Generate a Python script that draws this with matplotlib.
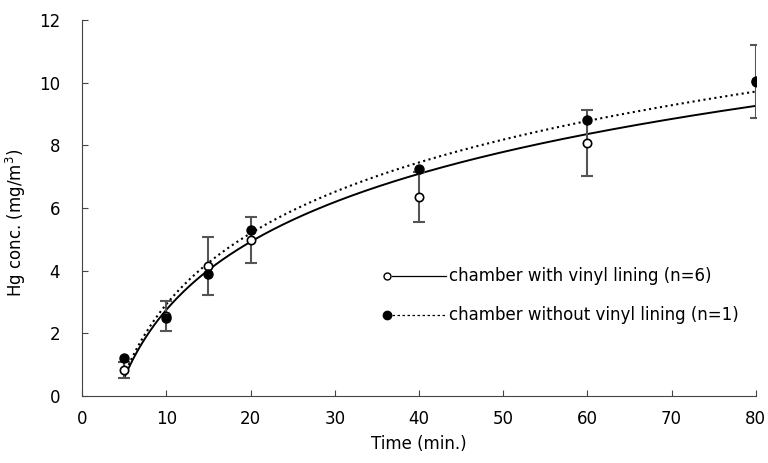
import numpy as np
import matplotlib
matplotlib.use("Agg")
import matplotlib.pyplot as plt

# data
time_min = [5, 10, 15, 20, 40, 60, 80]
with_vinyl = [0.83, 2.55, 4.15, 4.98, 6.35, 8.07, 10.03]
with_vinyl_sd = [0.25, 0.47, 0.92, 0.73, 0.80, 1.05, 1.16]
without_vinyl = [1.20, 2.49, 3.90, 5.28, 7.25, 8.80, 10.04]

plt.rcParams['font.family'] = ['DejaVu Sans']

fig = plt.figure(figsize=(7.68, 4.63), dpi=100)
ax = fig.add_axes([0.107, 0.145, 0.877, 0.812])

# log fits for the two curves
xs = np.linspace(5, 80, 300)
a1, b1 = np.polyfit(np.log(time_min), with_vinyl, 1)
a2, b2 = np.polyfit(np.log(time_min), without_vinyl, 1)
ax.plot(xs, a1 * np.log(xs) + b1, '-', color='black', lw=1.4, zorder=2)
ax.plot(xs, a2 * np.log(xs) + b2, ':', color='black', lw=1.5, zorder=2)

ax.errorbar(time_min, with_vinyl, yerr=with_vinyl_sd, fmt='none',
            ecolor='#555555', elinewidth=1.5, capsize=4, capthick=1.5, zorder=3)
ax.plot(time_min, with_vinyl, 'o', mfc='white', mec='black', mew=1.2, ms=6, zorder=4)
ax.plot(time_min, without_vinyl, 'o', color='black', ms=6.5, zorder=5)

ax.set_xlim(0, 80)
ax.set_ylim(0, 12)
ax.set_xticks(range(0, 81, 10))
ax.set_yticks(range(0, 13, 2))
ax.tick_params(direction='in', length=4, labelsize=12, color='#444444')
ax.tick_params(axis='y', pad=16)
ax.tick_params(axis='x', pad=10)
for s in ['top', 'right']:
    ax.spines[s].set_visible(False)
for s in ['left', 'bottom']:
    ax.spines[s].set_color('#444444')
ax.set_xlabel('Time (min.)', fontsize=12, labelpad=5)
ax.set_ylabel('Hg conc. (mg/m$^3$)', fontsize=12)
ax.yaxis.set_label_coords(-0.080, 0.46)

# hand-made legend
tr = ax.transAxes
ax.plot([0.453], [0.319], 'o', mfc='white', mec='black', mew=1.0, ms=5, transform=tr, clip_on=False)
ax.plot([0.460, 0.540], [0.319, 0.319], '-', color='black', lw=0.9, transform=tr)
ax.text(0.545, 0.319, 'chamber with vinyl lining (n=6)', fontsize=12, va='center', transform=tr)
ax.plot([0.453], [0.215], 'o', color='black', ms=6, transform=tr, clip_on=False)
ax.plot([0.460, 0.540], [0.215, 0.215], '--', color='black', lw=0.9, dashes=(2, 2), transform=tr)
ax.text(0.545, 0.215, 'chamber without vinyl lining (n=1)', fontsize=12, va='center', transform=tr)

fig.savefig('out.png', dpi=100)
